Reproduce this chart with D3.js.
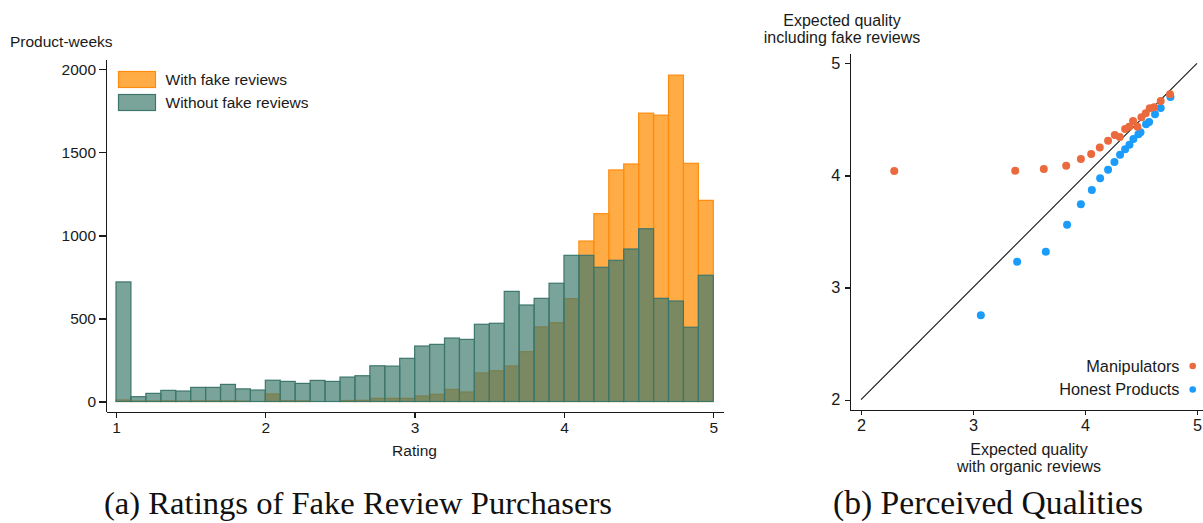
<!DOCTYPE html>
<html>
<head>
<meta charset="utf-8">
<script src="https://cdn.jsdelivr.net/npm/d3@7/dist/d3.min.js"></script>
<style>
  html, body { margin: 0; padding: 0; background: #ffffff; }
  svg { display: block; }
  .sans { font-family: "Liberation Sans", Arial, Helvetica, sans-serif; fill: #1a1a1a; }
  .axis path, .axis line { stroke: #1a1a1a; stroke-width: 1.3px; shape-rendering: crispEdges; }
  .axis text { font-family: "Liberation Sans", Arial, Helvetica, sans-serif; fill: #1a1a1a; }
</style>
</head>
<body>
<svg id="fig" width="1203" height="523"></svg>
<script>
// ---- Panel (a): histogram of ratings, 0.1-wide bins from 1 to 5 ----
const binStarts = d3.range(40).map(i => +(1 + i * 0.1).toFixed(1));
const withFake = [9, 3, 3, 4, 3, 4, 4, 4, 3, 0,
                  45, 5, 4, 0, 0, 6, 7, 19, 19, 19,
                  33, 43, 73, 57, 172, 185, 214, 300, 449, 474,
                  619, 966, 1131, 1394, 1430, 1736, 1724, 1965, 1434, 1211];
const withoutFake = [720, 29, 49, 67, 63, 85, 85, 103, 76, 69,
                     128, 121, 109, 127, 121, 147, 155, 215, 213, 260,
                     334, 344, 382, 374, 465, 471, 663, 581, 621, 712,
                     880, 880, 808, 850, 918, 1040, 621, 605, 447, 760];
const histYTicks = [0, 500, 1000, 1500, 2000];
const histXTicks = [1, 2, 3, 4, 5];
const histLegend = ["With fake reviews", "Without fake reviews"];

// ---- Panel (b): perceived qualities ----
const manipX = [2.297, 3.377, 3.632, 3.832, 3.963, 4.055, 4.132, 4.206, 4.266, 4.310,
                4.358, 4.394, 4.429, 4.468, 4.504, 4.542, 4.578, 4.617, 4.676, 4.759];
const manipY = [4.039, 4.042, 4.057, 4.087, 4.146, 4.191, 4.250, 4.310, 4.360, 4.343,
                4.414, 4.434, 4.485, 4.434, 4.518, 4.554, 4.599, 4.607, 4.664, 4.723];
const honestX = [3.070, 3.394, 3.650, 3.840, 3.963, 4.061, 4.135, 4.206, 4.263, 4.313,
                 4.358, 4.397, 4.432, 4.477, 4.495, 4.545, 4.572, 4.625, 4.676, 4.763];
const honestY = [2.752, 3.230, 3.319, 3.560, 3.742, 3.870, 3.974, 4.051, 4.120, 4.185,
                 4.233, 4.274, 4.325, 4.367, 4.385, 4.456, 4.476, 4.545, 4.601, 4.699];
const qualTicks = [2, 3, 4, 5];
const qualLegend = ["Manipulators", "Honest Products"];

const captions = ["(a) Ratings of Fake Review Purchasers", "(b) Perceived Qualities"];

const svg = d3.select("#fig");

// ================= Panel (a) =================
const orangeFill = "rgba(255,140,0,0.72)";
const orangeStroke = "#ff8c0f";
const tealFill = "rgba(62,121,109,0.69)";
const tealStroke = "#3d776c";

const hx = d3.scaleLinear().domain([0.933, 5.065]).range([106, 723]);
const hy = d3.scaleLinear().domain([-61.4, 2060.2]).range([411.7, 59.3]);
const binW = 0.1;

const gA = svg.append("g");

// orange bars underneath, teal drawn translucent on top
gA.append("g").selectAll("rect").data(withFake).join("rect")
  .attr("x", (d, i) => hx(binStarts[i]))
  .attr("width", (d, i) => hx(binStarts[i] + binW) - hx(binStarts[i]))
  .attr("y", d => hy(d))
  .attr("height", d => hy(0) - hy(d))
  .attr("fill", orangeFill)
  .attr("stroke", orangeStroke)
  .attr("stroke-width", 1.2);

gA.append("g").selectAll("rect").data(withoutFake).join("rect")
  .attr("x", (d, i) => hx(binStarts[i]))
  .attr("width", (d, i) => hx(binStarts[i] + binW) - hx(binStarts[i]))
  .attr("y", d => hy(d))
  .attr("height", d => hy(0) - hy(d))
  .attr("fill", tealFill)
  .attr("stroke", tealStroke)
  .attr("stroke-width", 1.2);

const axYA = gA.append("g").attr("class", "axis")
  .attr("transform", `translate(${hx.range()[0]},0)`)
  .call(d3.axisLeft(hy).tickValues(histYTicks).tickFormat(d3.format("d"))
    .tickSize(7).tickSizeOuter(0).tickPadding(3));
axYA.selectAll("text").style("font-size", "15.5px");

const axXA = gA.append("g").attr("class", "axis")
  .attr("transform", `translate(0,${hy.range()[0]})`)
  .call(d3.axisBottom(hx).tickValues(histXTicks).tickFormat(d3.format("d"))
    .tickSize(6).tickSizeOuter(0).tickPadding(4));
axXA.selectAll("text").style("font-size", "15.5px");

gA.append("text").attr("class", "sans")
  .attr("x", 10).attr("y", 46.5)
  .style("font-size", "15.5px")
  .text("Product-weeks");

gA.append("text").attr("class", "sans")
  .attr("x", 414.5).attr("y", 455.5)
  .attr("text-anchor", "middle")
  .style("font-size", "15.5px")
  .text("Rating");

// legend
const legA = gA.append("g").attr("transform", "translate(118.5,71.5)");
const legFills = [[orangeFill, orangeStroke], [tealFill, tealStroke]];
histLegend.forEach((lab, i) => {
  const row = legA.append("g").attr("transform", `translate(0,${i * 23})`);
  row.append("rect").attr("width", 37).attr("height", 16)
    .attr("fill", legFills[i][0]).attr("stroke", legFills[i][1]).attr("stroke-width", 1.2);
  row.append("text").attr("class", "sans")
    .attr("x", 47).attr("y", 13.5)
    .style("font-size", "15.5px")
    .text(lab);
});

// ================= Panel (b) =================
const manipColor = "#ea6a3e";
const honestColor = "#1b9cfb";

const qx = d3.scaleLinear().domain([1.9045, 5.0535]).range([850.3, 1203]);
const qy = d3.scaleLinear().domain([1.9055, 5.089]).range([410.3, 53.3]);

const gB = svg.append("g");

const axYB = gB.append("g").attr("class", "axis")
  .attr("transform", `translate(${qx.range()[0]},0)`)
  .call(d3.axisLeft(qy).tickValues(qualTicks).tickFormat(d3.format("d"))
    .tickSize(5).tickSizeOuter(0).tickPadding(5));
axYB.selectAll("text").style("font-size", "16.3px");

const axXB = gB.append("g").attr("class", "axis")
  .attr("transform", `translate(0,${qy.range()[0]})`)
  .call(d3.axisBottom(qx).tickValues(qualTicks).tickFormat(d3.format("d"))
    .tickSize(5).tickSizeOuter(0).tickPadding(4));
axXB.selectAll("text").style("font-size", "16.3px");

// 45-degree reference line
gB.append("line")
  .attr("x1", qx(2)).attr("y1", qy(2))
  .attr("x2", qx(5)).attr("y2", qy(5))
  .attr("stroke", "#111").attr("stroke-width", 1.1);

const honestPts = honestX.map((x, i) => [x, honestY[i]]);
const manipPts = manipX.map((x, i) => [x, manipY[i]]);

gB.append("g").selectAll("circle").data(honestPts).join("circle")
  .attr("cx", d => qx(d[0])).attr("cy", d => qy(d[1]))
  .attr("r", 4).attr("fill", honestColor);

gB.append("g").selectAll("circle").data(manipPts).join("circle")
  .attr("cx", d => qx(d[0])).attr("cy", d => qy(d[1]))
  .attr("r", 4).attr("fill", manipColor);

// axis titles
const yTitle = gB.append("text").attr("class", "sans")
  .attr("text-anchor", "middle").style("font-size", "16px");
yTitle.append("tspan").attr("x", 842).attr("y", 25.5).text("Expected quality");
yTitle.append("tspan").attr("x", 842).attr("y", 42.5).text("including fake reviews");

const xTitle = gB.append("text").attr("class", "sans")
  .attr("text-anchor", "middle").style("font-size", "16px");
xTitle.append("tspan").attr("x", 1029).attr("y", 454.5).text("Expected quality");
xTitle.append("tspan").attr("x", 1029).attr("y", 471.5).text("with organic reviews");

// legend
const legB = gB.append("g");
[[manipColor, 366], [honestColor, 389.5]].forEach((c, i) => {
  legB.append("text").attr("class", "sans")
    .attr("x", 1179.5).attr("y", c[1] + 5.5)
    .attr("text-anchor", "end")
    .style("font-size", "16.3px")
    .text(qualLegend[i]);
  legB.append("circle").attr("cx", 1192.7).attr("cy", c[1]).attr("r", 3.3).attr("fill", c[0]);
});

// ================= Captions =================
const capSpecs = [[104, 612], [833, 1143]];
captions.forEach((t, i) => {
  const [x0, x1] = capSpecs[i];
  const txt = svg.append("text")
    .attr("x", x0).attr("y", 514)
    .style("font-family", "'Liberation Serif', 'Times New Roman', serif")
    .style("font-size", "26px")
    .attr("fill", "#111")
    .text(t);
  const w = txt.node().getComputedTextLength();
  txt.style("font-size", (26 * (x1 - x0) / w).toFixed(2) + "px");
});
</script>
</body>
</html>
